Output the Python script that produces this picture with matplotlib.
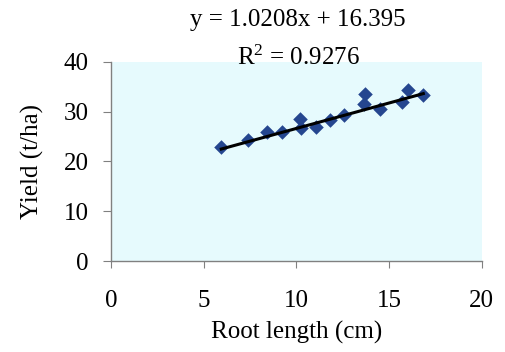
import matplotlib
matplotlib.use("Agg")
import matplotlib.pyplot as plt
import numpy as np

root_length = [5.95, 7.38, 8.43, 9.24, 10.22, 10.27, 11.04, 11.80, 12.57, 13.71, 13.65, 14.50, 15.68, 16.00, 16.85]
yield_tha = [22.9, 24.3, 25.9, 25.9, 28.4, 26.6, 26.9, 28.2, 29.4, 33.5, 31.5, 30.5, 31.9, 34.4, 33.4]
slope = 1.0208
intercept = 16.395
r2 = 0.9276
x_ticks = [0, 5, 10, 15, 20]
y_ticks = [0, 10, 20, 30, 40]

plt.rcParams['font.family'] = ['Liberation Serif', 'DejaVu Serif']

fig = plt.figure(figsize=(5.05, 3.52), dpi=100)
ax = fig.add_axes([111.0/505, 1-261/352, (481.7-111.0)/505, (261-61.7)/352])
ax.set_facecolor('#e6fafd')

ax.scatter(root_length, yield_tha, marker='D', s=55, color='#25468f', zorder=3, linewidths=0)
xs = np.array([min(root_length), max(root_length)])
ax.plot(xs, slope*xs + intercept, color='black', lw=2.2, zorder=4)

ax.set_xlim(0, 20)
ax.set_ylim(0, 40)
ax.set_xticks(x_ticks)
ax.set_yticks(y_ticks)
for s in ['top', 'right']:
    ax.spines[s].set_visible(False)
for s in ['left', 'bottom']:
    ax.spines[s].set_color('#808080')
    ax.spines[s].set_linewidth(1.0)
ax.tick_params(axis='y', direction='out', length=6, color='#808080', labelsize=18, pad=10)
ax.tick_params(axis='x', direction='out', length=5, color='#808080', labelsize=18, pad=16)

ax.set_xlabel('Root length (cm)', fontsize=18, labelpad=6)
ax.set_ylabel('Yield (t/ha)', fontsize=18, labelpad=14)

fig.text(298/505, 1-20/352, f'y = {slope}x + {intercept}', ha='center', va='center', fontsize=18)
fig.text(298/505, 1-58/352, r'$\mathregular{R^2}$' + f' = {r2}', ha='center', va='center', fontsize=18)

fig.savefig('out.png', dpi=100)
